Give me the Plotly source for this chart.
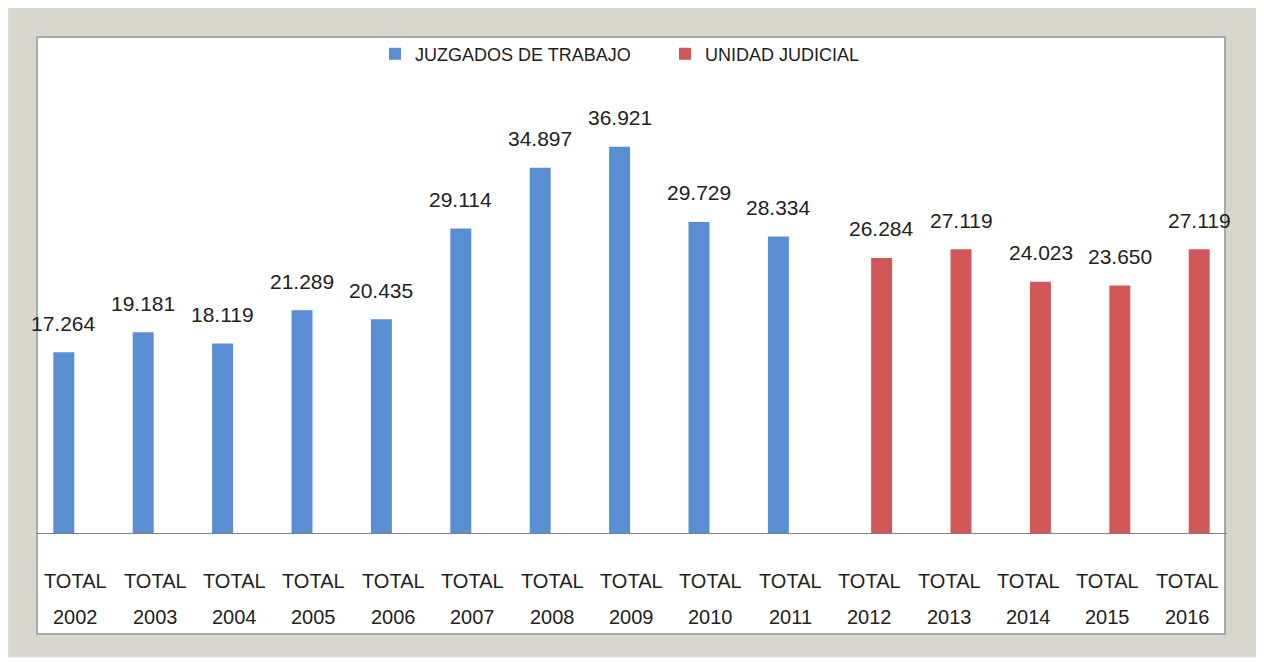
import plotly.graph_objects as go

categories = ["2002", "2003", "2004", "2005", "2006", "2007", "2008", "2009",
              "2010", "2011", "2012", "2013", "2014", "2015", "2016"]
tick_prefix = "TOTAL"
juzgados = [17264, 19181, 18119, 21289, 20435, 29114, 34897, 36921, 29729, 28334,
            None, None, None, None, None]
unidad = [None, None, None, None, None, None, None, None, None, None,
          26284, 27119, 24023, 23650, 27119]
series_names = ["JUZGADOS DE TRABAJO", "UNIDAD JUDICIAL"]

BLUE = "#5A8ED2"
RED = "#D25757"
FONT = "Liberation Sans, Arial, sans-serif"
TXT = "#222222"

# the page body has an 8px margin: size the figure so it ends at the window edge
OFF = 8
W, H = 1264 - OFF, 663 - OFF
ML, MR, MT, MB = 28, 37, 29, 130
PW = W - ML - MR
PH = H - MT - MB


def px_x(p):
    """page x pixel (reference coordinates) -> paper fraction"""
    return (p - OFF - ML) / PW


def px_y(p):
    """page y pixel (reference coordinates) -> paper fraction"""
    return (H - MB - (p - OFF)) / PH


fig = go.Figure()
fig.add_trace(go.Bar(x=categories, y=juzgados, name=series_names[0],
                     marker=dict(color=BLUE, line=dict(width=0))))
fig.add_trace(go.Bar(x=categories, y=unidad, name=series_names[1],
                     marker=dict(color=RED, line=dict(width=0))))

annotations = []
for vals, shift in ((juzgados, -12), (unidad, 12)):
    for i, v in enumerate(vals):
        if v is None:
            continue
        annotations.append(dict(
            x=i, y=v, xref="x", yref="y", text=f"{v:,}".replace(",", "."),
            showarrow=False, xshift=shift, yshift=29, yanchor="middle",
            font=dict(family=FONT, size=21, color=TXT)))
for i, c in enumerate(categories):
    annotations.append(dict(x=i, y=0, xref="x", yref="paper", text=tick_prefix,
                            showarrow=False, yshift=-48, yanchor="middle",
                            font=dict(family=FONT, size=20, color=TXT)))
    annotations.append(dict(x=i, y=0, xref="x", yref="paper", text=c,
                            showarrow=False, yshift=-84, yanchor="middle",
                            font=dict(family=FONT, size=20, color=TXT)))

shapes = [
    # grey frame
    dict(type="rect", xref="paper", yref="paper", layer="below",
         x0=px_x(8), x1=px_x(1257), y0=px_y(657), y1=px_y(6),
         fillcolor="#D9D6CE", line=dict(width=1, color="#E6E4DE")),
    # inner white panel
    dict(type="rect", xref="paper", yref="paper", layer="below",
         x0=px_x(37), x1=px_x(1225), y0=px_y(634), y1=px_y(37),
         fillcolor="#FFFFFF", line=dict(width=2, color="#A9A9A9")),
]

fig.update_layout(
    width=W, height=H,
    margin=dict(l=ML, r=MR, t=MT, b=MB, pad=0),
    paper_bgcolor="#FFFFFF", plot_bgcolor="rgba(0,0,0,0)",
    barmode="group", bargap=0.4, bargroupgap=0.12,
    separators=",.",
    font=dict(family=FONT, color=TXT),
    showlegend=True,
    legend=dict(orientation="h", x=px_x(375), xanchor="left",
                y=px_y(54), yanchor="middle",
                bgcolor="rgba(0,0,0,0)", font=dict(family=FONT, size=18, color=TXT),
                entrywidth=245, entrywidthmode="pixels", itemsizing="constant"),
    xaxis=dict(type="category", categoryorder="array", categoryarray=categories,
               range=[-0.5, len(categories) - 0.5],
               showticklabels=False, ticks="", showgrid=False, zeroline=False,
               showline=True, linecolor="#808080", linewidth=1, fixedrange=True),
    yaxis=dict(range=[0, 47405], visible=False, showgrid=False, zeroline=False,
               fixedrange=True),
    shapes=shapes,
    annotations=annotations,
)

fig.write_html("out.html")
